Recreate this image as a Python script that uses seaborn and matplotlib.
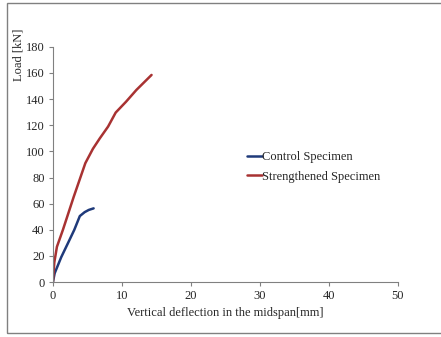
import matplotlib
matplotlib.use("Agg")
import matplotlib.pyplot as plt
import seaborn as sns
import pandas as pd
from matplotlib.patches import Rectangle

sns.set_style("white")
plt.rcParams['font.family'] = ['Liberation Serif', 'DejaVu Serif']

control_x = [0, 0.25, 1.2, 2.2, 3.1, 3.9, 4.6, 5.2, 5.9]
control_y = [0, 6.7, 19, 30, 40, 50.5, 53.5, 55.2, 56.4]
strong_x = [0, 0.2, 0.58, 1.45, 3.0, 4.7, 5.8, 6.8, 8.0, 9.1, 10.6, 12.1, 14.3]
strong_y = [0, 15, 27, 40, 65, 91, 102, 110, 119, 129.7, 138, 147, 158.5]
series_names = ["Control Specimen", "Strengthened Specimen"]
xticks = [0, 10, 20, 30, 40, 50]
yticks = list(range(0, 181, 20))

df = pd.concat([
    pd.DataFrame({"x": control_x, "y": control_y, "s": series_names[0]}),
    pd.DataFrame({"x": strong_x, "y": strong_y, "s": series_names[1]}),
])

fig = plt.figure(figsize=(4.41, 3.37), dpi=100)
ax = fig.add_axes([0.120, 0.163, 0.782, 0.698])
sns.lineplot(data=df, x="x", y="y", hue="s", sort=False, estimator=None,
             palette=["#1f3a7a", "#a83232"], linewidth=1.8, ax=ax)

ax.set_xlim(0, 50)
ax.set_ylim(0, 180)
ax.set_xticks(xticks)
ax.set_yticks(yticks)
ax.tick_params(axis="both", labelsize=9, direction="out", length=3, width=0.8,
               color="#808080", pad=3, left=True, bottom=True)
for s in ["top", "right"]:
    ax.spines[s].set_visible(False)
for s in ["left", "bottom"]:
    ax.spines[s].set_color("#808080")
    ax.spines[s].set_linewidth(0.8)
ax.set_xlabel("Vertical deflection in the midspan[mm]", fontsize=9, labelpad=3)
ax.set_ylabel("Load [kN]", fontsize=9)
ax.yaxis.set_label_coords(-0.10, 0.966)
ax.yaxis.label.set_ha("center")
ax.yaxis.label.set_va("center")

leg = ax.legend(frameon=False, fontsize=9, loc="upper left",
                bbox_to_anchor=(0.53, 0.605), handlelength=1.2, handletextpad=0.0,
                labelspacing=0.6)
for line in leg.get_lines():
    line.set_linewidth(1.8)

fig.patches.append(Rectangle((0.016, 0.012), 1.0, 0.979, transform=fig.transFigure,
                             fill=False, edgecolor="#808080", linewidth=1.0))

fig.savefig("out.png", dpi=100)
